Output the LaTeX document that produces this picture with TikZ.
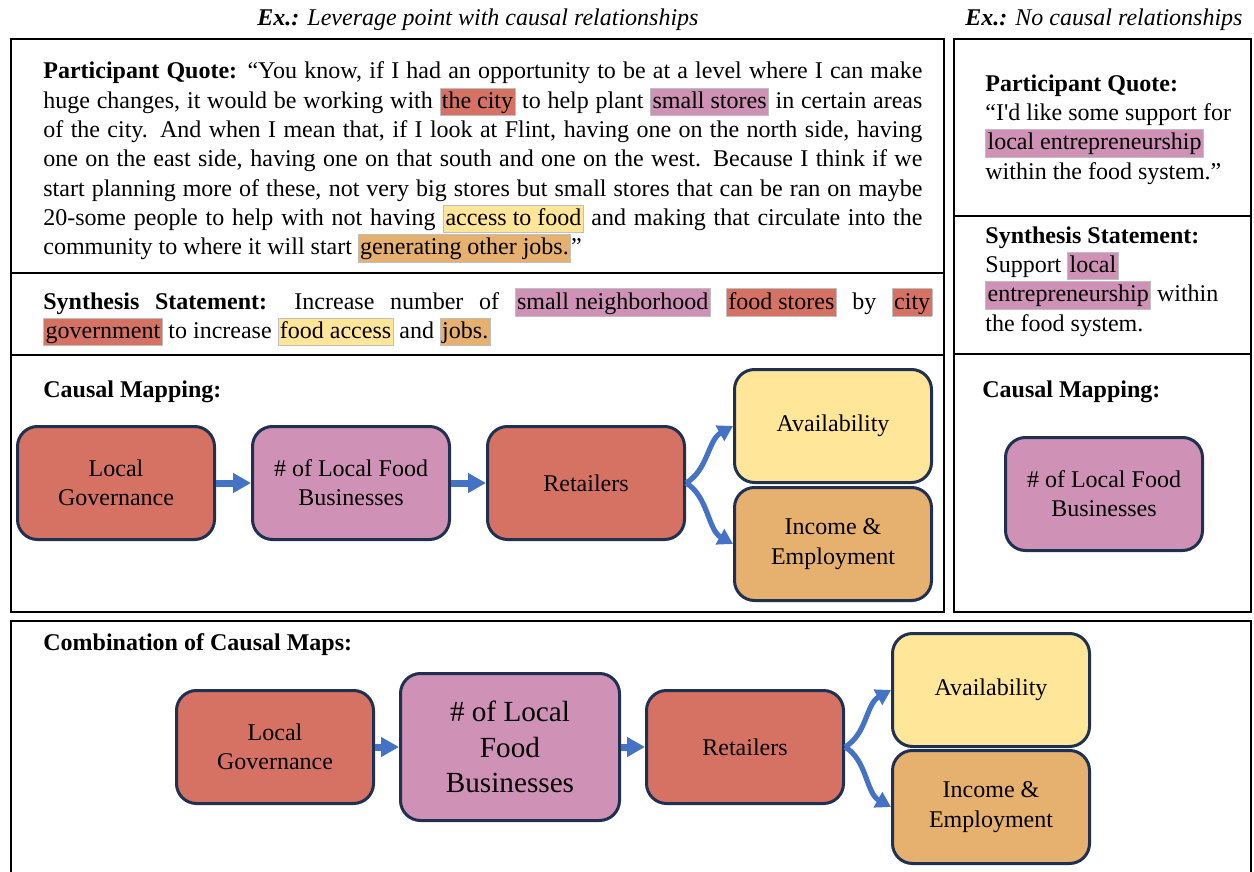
\documentclass[tikz,border=0pt]{standalone}
\usepackage{fontspec}
\setmainfont{Liberation Serif}
\definecolor{govRed}{RGB}{214,114,100}
\definecolor{bizPink}{RGB}{207,145,181}
\definecolor{accessYellow}{RGB}{255,230,153}
\definecolor{jobsOrange}{RGB}{230,176,110}
\definecolor{boxNavy}{RGB}{31,48,80}
\definecolor{arrowBlue}{RGB}{68,114,196}
\usetikzlibrary{arrows.meta, positioning}

% highlighted phrase inside the running text
\newcommand{\hlbox}[2]{{\setlength{\fboxsep}{0.7pt}\setlength{\fboxrule}{0.4pt}%
  \fcolorbox{black!25}{#1}{\rule[-2.8pt]{0pt}{12pt}#2}}}

\begin{document}
\begin{tikzpicture}[x=0.5pt, y=-0.5pt,
    every node/.style={font=\fontsize{12}{14.65}\selectfont},
    factor/.style={draw=boxNavy, line width=1.5pt, rounded corners=10pt,
      minimum width=98.5pt, minimum height=56.5pt, align=center, inner sep=2pt},
    bigfactor/.style={factor, minimum width=109.5pt, minimum height=73.5pt,
      font=\fontsize{14.6}{17.75}\selectfont},
    link/.style={arrowBlue, line width=3.5pt, -{Triangle[length=9pt,width=9.5pt]}},
    forklink/.style={arrowBlue, line width=2.6pt, -{Triangle[length=7.5pt,width=8.5pt]}},
    panel/.style={line width=1.3pt},
    quotetext/.style={anchor=base west, inner sep=0pt, align=justify},
    sidetext/.style={anchor=base west, inner sep=0pt, align=left},
    sectionlabel/.style={anchor=base west, inner sep=0pt}]
  \useasboundingbox (0,0) rectangle (1254,872);

  % panels
  \draw[panel] (11,39) rectangle (944,612);
  \draw[panel] (11,273) -- (944,273);
  \draw[panel] (11,355) -- (944,355);
  \draw[panel] (954,39) rectangle (1251,612);
  \draw[panel] (954,216) -- (1251,216);
  \draw[panel] (954,354) -- (1251,354);
  \draw[panel] (11,880) -- (11,621) -- (1251,621) -- (1251,880);

  % headings
  \node[anchor=base] (titleL) at (478,26) {\itshape\textbf{Ex.:} Leverage point with causal relationships};
  \node[anchor=base] (titleR) at (1104,26) {\itshape\textbf{Ex.:} No causal relationships};

  % left column texts
  \node[quotetext, text width=439.5pt] (quote) at (43,79) {\textbf{Participant Quote:} “You know, if I had an opportunity to be at a level where I can make\linebreak
    huge changes, it would be working with \hlbox{govRed}{the city} to help plant \hlbox{bizPink}{small stores} in certain areas\linebreak
    of the city. And when I mean that, if I look at Flint, having one on the north side, having\linebreak
    one on the east side, having one on that south and one on the west. Because I think if we\linebreak
    start planning more of these, not very big stores but small stores that can be ran on maybe\linebreak
    20-some people to help with not having \hlbox{accessYellow}{access to food} and making that circulate into the\linebreak
    community to where it will start \hlbox{jobsOrange}{generating other jobs.}”};
  \node[quotetext, text width=444.5pt] (synth) at (43,309) {\textbf{Synthesis Statement:} Increase number of \hlbox{bizPink}{small neighborhood} \hlbox{govRed}{food stores} by \hlbox{govRed}{city}\linebreak
    \hlbox{govRed}{government} to increase \hlbox{accessYellow}{food access} and \hlbox{jobsOrange}{jobs.}};
  \node[sectionlabel] (mapL) at (43,397) {\textbf{Causal Mapping:}};

  % right column texts (anchored on their last line)
  \node[sidetext] (quoteR) at (985,179) {\textbf{Participant Quote:}\\“I\textquotesingle d like some support for\\\hlbox{bizPink}{local entrepreneurship}\\within the food system.”};
  \node[sidetext] (synthR) at (985,331) {\textbf{Synthesis Statement:}\\Support \hlbox{bizPink}{local}\\\hlbox{bizPink}{entrepreneurship} within\\the food system.};
  \node[sectionlabel] (mapR) at (982,397) {\textbf{Causal Mapping:}};

  % causal map with relationships
  \node[factor, fill=govRed] (gov) at (116,483) {Local\\Governance};
  \node[factor, fill=bizPink, right=17.5pt of gov] (biz) {\# of Local Food\\Businesses};
  \node[factor, fill=govRed, right=17.5pt of biz] (ret) {Retailers};
  \node[factor, fill=accessYellow] (avail) at (833,426) {Availability};
  \node[factor, fill=jobsOrange] (inc) at (833,544) {Income \&\\Employment};
  \draw[link] (gov) -- (biz);
  \draw[link] (biz) -- (ret);
  \draw[forklink] (ret.east) .. controls +(22,-13) and +(-25,14) .. (avail.west);
  \draw[forklink] (ret.east) .. controls +(22,13) and +(-25,-14) .. (inc.west);

  % single factor, no relationships
  \node[factor, fill=bizPink] (bizR) at (1104,494) {\# of Local Food\\Businesses};

  % combined map
  \node[sectionlabel] (combo) at (43,650) {\textbf{Combination of Causal Maps:}};
  \node[factor, fill=govRed] (gov2) at (275,747) {Local\\Governance};
  \node[bigfactor, fill=bizPink, right=12pt of gov2] (biz2) {\# of Local\\Food\\Businesses};
  \node[factor, fill=govRed, right=12pt of biz2] (ret2) {Retailers};
  \node[factor, fill=accessYellow] (avail2) at (991,690) {Availability};
  \node[factor, fill=jobsOrange] (inc2) at (991,807) {Income \&\\Employment};
  \draw[link] (gov2) -- (biz2);
  \draw[link] (biz2) -- (ret2);
  \draw[forklink] (ret2.east) .. controls +(22,-13) and +(-25,14) .. (avail2.west);
  \draw[forklink] (ret2.east) .. controls +(22,13) and +(-25,-14) .. (inc2.west);
\end{tikzpicture}
\end{document}
